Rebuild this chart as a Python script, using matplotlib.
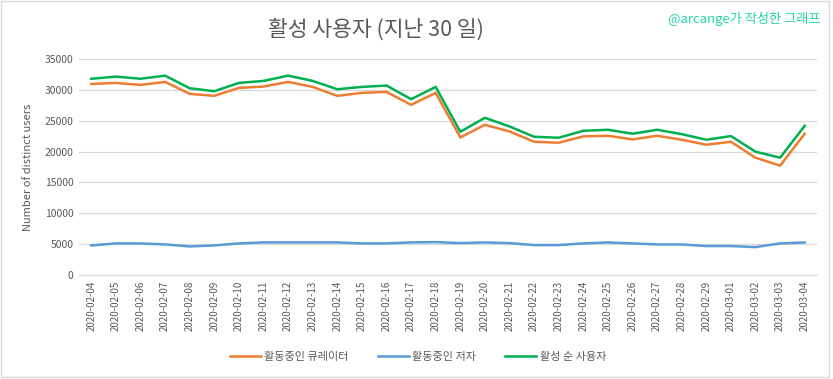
import matplotlib
matplotlib.use('Agg')
import matplotlib.pyplot as plt
from matplotlib.patches import Rectangle

plt.rcParams['font.family'] = ['Noto Sans CJK KR', 'DejaVu Sans']

# Data
dates = ['2020-02-04', '2020-02-05', '2020-02-06', '2020-02-07', '2020-02-08',
         '2020-02-09', '2020-02-10', '2020-02-11', '2020-02-12', '2020-02-13',
         '2020-02-14', '2020-02-15', '2020-02-16', '2020-02-17', '2020-02-18',
         '2020-02-19', '2020-02-20', '2020-02-21', '2020-02-22', '2020-02-23',
         '2020-02-24', '2020-02-25', '2020-02-26', '2020-02-27', '2020-02-28',
         '2020-02-29', '2020-03-01', '2020-03-02', '2020-03-03', '2020-03-04']
curators = [30960, 31120, 30800, 31290, 29350, 29030, 30320, 30530, 31290, 30480,
            29030, 29510, 29670, 27570, 29510, 22290, 24340, 23260, 21590, 21430,
            22460, 22560, 21970, 22560, 21920, 21110, 21590, 19010, 17720, 22890]
authors = [4790, 5120, 5120, 4950, 4630, 4790, 5120, 5280, 5280, 5280,
           5280, 5120, 5120, 5280, 5330, 5170, 5280, 5170, 4850, 4850,
           5120, 5280, 5120, 4950, 4950, 4690, 4690, 4520, 5120, 5280]
unique_users = [31800, 32150, 31800, 32300, 30260, 29780, 31120, 31450, 32300, 31450,
                30100, 30480, 30700, 28490, 30480, 23210, 25470, 24070, 22400, 22240,
                23370, 23530, 22890, 23530, 22830, 21920, 22510, 19980, 19010, 24180]
yticks = [0, 5000, 10000, 15000, 20000, 25000, 30000, 35000]

text_gray = '#595959'

fig = plt.figure(figsize=(8.33, 3.79), dpi=100)
ax = fig.add_axes([79 / 833, 1 - 275 / 379, 738 / 833, 216 / 379])

# light frame around the whole chart, like the original export
fig.patches.append(Rectangle((1 / 833, 2 / 379), 828 / 833, 376 / 379,
                             transform=fig.transFigure, fill=False,
                             edgecolor='#d9d9d9', linewidth=1.0))

x = range(len(dates))
ax.plot(x, curators, color='#ED7D31', linewidth=1.8, label='활동중인 큐레이터')
ax.plot(x, authors, color='#5B9BD5', linewidth=1.8, label='활동중인 저자')
ax.plot(x, unique_users, color='#00B050', linewidth=1.8, label='활성 순 사용자')

ax.set_xlim(-0.5, len(dates) - 0.5)
ax.set_ylim(0, 35000)
ax.set_yticks(yticks)
ax.set_yticklabels([str(v) for v in yticks], fontsize=7.5, color=text_gray)
ax.set_xticks(list(x))
ax.set_xticklabels(dates, rotation=90, fontsize=7, color=text_gray)
ax.tick_params(axis='both', length=0, pad=4)
ax.grid(axis='y', color='#d9d9d9', linewidth=0.9)
ax.set_axisbelow(True)
for side in ['top', 'right', 'left']:
    ax.spines[side].set_visible(False)
ax.spines['bottom'].set_color('#d9d9d9')
ax.set_ylabel('Number of distinct users', fontsize=8, color=text_gray, labelpad=8)

fig.text(376 / 833, 1 - 30 / 379, '활성 사용자 (지난 30 일)', ha='center', va='center',
         fontsize=15.5, color=text_gray)
fig.text(820 / 833, 1 - 19 / 379, '@arcange가 작성한 그래프', ha='right', va='center',
         fontsize=9.5, color='#22d8a8')

fig.legend(loc='center', bbox_to_anchor=(418 / 833, 1 - 357 / 379), ncol=3,
           frameon=False, fontsize=8, labelcolor=text_gray, handlelength=2.8,
           handletextpad=0.3, columnspacing=2.6)

fig.savefig('out.png', dpi=100)
